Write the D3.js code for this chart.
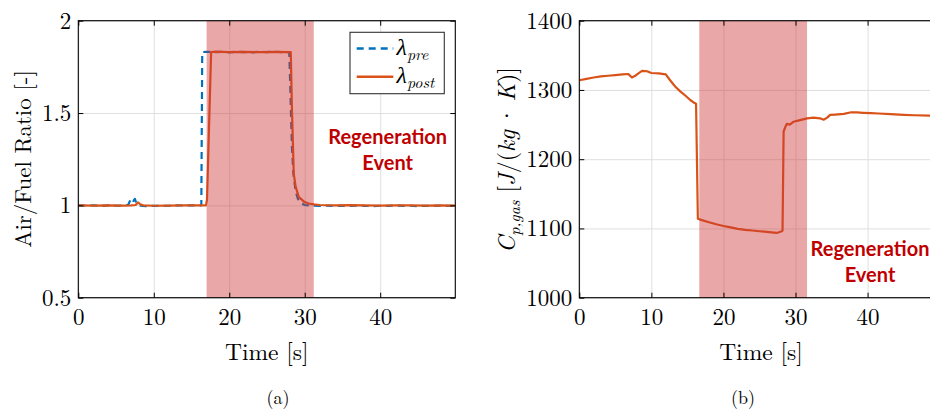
<!DOCTYPE html>
<html>
<head>
<meta charset="utf-8">
<script src="https://cdn.jsdelivr.net/npm/d3@7"></script>
<style>
  html, body { margin: 0; padding: 0; background: #fff; }
  svg { display: block; }
</style>
</head>
<body>
<svg id="chart" width="930" height="412"></svg>
<script>
// ---------------- DATA ----------------
const xTickValues = [0, 10, 20, 30, 40];
const yTicksA = [0.5, 1, 1.5, 2];
const yTickLabelsA = ["0.5", "1", "1.5", "2"];
const yTicksB = [1000, 1100, 1200, 1300, 1400];
const yTickLabelsB = ["1000", "1100", "1200", "1300", "1400"];

// Panel (a): lambda pre (blue dashed)
const tPre = [0, 1, 2, 3, 4, 5, 6, 6.6, 6.9, 7.1, 7.3, 7.5, 7.7, 8.0, 8.5, 9, 10, 11, 12, 13, 14, 15, 16, 16.3, 16.42,
  17, 18, 19, 20, 21, 22, 23, 24, 25, 26, 27, 27.95, 28.1, 28.3, 28.5, 28.8, 29.1, 29.5, 30, 31, 32, 33, 34, 35, 36, 37,
  38, 39, 40, 41, 42, 43, 44, 45, 46, 47, 48, 49, 49.95];
const lambdaPre = [1.0, 0.998, 1.0, 0.997, 1.0, 0.998, 1.0, 1.002, 1.03, 1.038, 1.024, 1.035, 1.01, 1.0, 0.997, 0.996, 0.998, 0.997, 0.998, 1.0, 0.999, 1.0, 1.0, 1.0, 1.83,
  1.832, 1.83, 1.831, 1.829, 1.832, 1.83, 1.829, 1.831, 1.83, 1.832, 1.83, 1.83, 1.62, 1.32, 1.17, 1.075, 1.035, 1.012, 1.002, 0.998, 0.997, 0.999, 0.996, 0.998, 0.997, 0.999,
  0.997, 0.996, 0.998, 0.997, 0.999, 0.997, 0.998, 0.996, 0.998, 0.997, 0.999, 0.997, 0.998];

// Panel (a): lambda post (orange solid)
const tPost = [0, 2, 4, 6, 7, 7.6, 7.9, 8.2, 8.6, 10, 12, 14, 16, 16.9, 17.05, 17.6, 18, 20, 22, 24, 26, 28, 28.15,
  28.3, 28.55, 28.8, 29.2, 29.9, 30.5, 31.2, 32, 34, 36, 38, 40, 42, 44, 46, 48, 49.95];
const lambdaPost = [1.0, 0.999, 1.0, 0.999, 1.0, 1.002, 1.016, 1.006, 1.0, 0.998, 0.999, 1.0, 1.0, 1.0, 1.03, 1.83, 1.832, 1.83, 1.831, 1.83, 1.831, 1.83, 1.83,
  1.53, 1.17, 1.10, 1.047, 1.02, 1.01, 1.005, 1.002, 1.0, 1.001, 1.0, 0.999, 1.0, 1.0, 0.999, 1.0, 0.999];

// Panel (b): Cp,gas (orange solid)
const tCp = [0, 1, 2, 3, 4, 5, 6, 6.8, 7.0, 7.3, 7.7, 8.2, 8.7, 9.4, 10.0, 11, 12.0, 12.6, 13.3, 14.0, 14.7, 15.4, 16.0, 16.2, 16.45,
  17, 18, 19, 20, 21, 22, 23, 24, 25, 26, 27, 27.4, 28.0, 28.2, 28.35, 28.6, 28.8, 29.2, 29.7, 30.5, 31.6, 32.5, 33.4, 33.9,
  34.4, 34.8, 35.5, 36.7, 37.6, 38.5, 39.4, 40.5, 41.5, 43.2, 45, 46.5, 48.7, 49.95];
const cpGas = [1314, 1316, 1318, 1319.5, 1320.5, 1321.5, 1322.5, 1323, 1321, 1318, 1320, 1324, 1327.5, 1327, 1324.5, 1324, 1322.5, 1314, 1305, 1298, 1292, 1285.5, 1281, 1280, 1114,
  1112, 1109, 1106, 1103.5, 1101.5, 1099.5, 1098, 1097, 1096, 1095, 1094, 1093.5, 1095.5, 1097, 1240, 1247, 1251, 1250, 1254, 1256, 1259, 1260, 1259, 1257,
  1260, 1264, 1264.5, 1265.5, 1267.5, 1267.5, 1267, 1266.5, 1266, 1265, 1264, 1263.5, 1263, 1262.5];

// Regeneration event spans
const regenA = [17.0, 31.2];
const regenB = [16.65, 31.6];

const seriesNames = ["\u03bb", "pre", "post"];

// ---------------- DRAWING ----------------
const svg = d3.select("#chart");
const SERIF = '"Latin Modern Roman"';
const SANS = '"Lato"';
const blue = "#0072BD";
const orange = "#D95319";

function panel(cfg) {
  const g = svg.append("g");
  const x = d3.scaleLinear().domain([0, 49.95]).range([cfg.left, cfg.right]);
  const y = d3.scaleLinear().domain(cfg.yDomain).range([cfg.bottom, cfg.top]);
  const w = cfg.right - cfg.left, h = cfg.bottom - cfg.top;
  const clipId = "clip" + cfg.id;
  svg.append("defs").append("clipPath").attr("id", clipId)
    .append("rect").attr("x", cfg.left).attr("y", cfg.top).attr("width", w).attr("height", h);

  // grid
  const grid = g.append("g");
  grid.append("g").attr("transform", `translate(0,${cfg.bottom})`)
    .call(d3.axisBottom(x).tickValues(xTickValues).tickSize(-h).tickFormat(""))
    .call(s => { s.select(".domain").remove(); s.selectAll("line").attr("stroke", "#dfdfdf").attr("stroke-width", 1); });
  grid.append("g").attr("transform", `translate(${cfg.left},0)`)
    .call(d3.axisLeft(y).tickValues(cfg.yTicks).tickSize(-w).tickFormat(""))
    .call(s => { s.select(".domain").remove(); s.selectAll("line").attr("stroke", "#dfdfdf").attr("stroke-width", 1); });

  // lines
  const lines = g.append("g").attr("clip-path", `url(#${clipId})`);
  cfg.series.forEach(sr => {
    const pts = sr.t.map((t, i) => [t, sr.v[i]]);
    lines.append("path").datum(pts)
      .attr("fill", "none").attr("stroke", sr.color).attr("stroke-width", 2.2)
      .attr("stroke-dasharray", sr.dash || null)
      .attr("stroke-linejoin", "round")
      .attr("d", d3.line().x(d => x(d[0])).y(d => y(d[1])));
  });

  // regeneration shading (drawn over lines, semi-transparent)
  g.append("rect")
    .attr("x", x(cfg.regen[0])).attr("y", cfg.top)
    .attr("width", x(cfg.regen[1]) - x(cfg.regen[0])).attr("height", h)
    .attr("fill", "rgb(204,51,51)").attr("fill-opacity", 0.43);

  // axes ticks (inward)
  const styleLabels = s => {
    s.attr("font-family", null).attr("font-size", null);
    s.select(".domain").remove();
    s.selectAll("text").style("font-family", SERIF).style("font-size", "23px").attr("fill", "#000");
    s.selectAll("line").attr("stroke", "#000");
  };
  const ax = g.append("g");
  ax.append("g").attr("transform", `translate(0,${cfg.bottom})`)
    .call(d3.axisBottom(x).tickValues(xTickValues).tickSize(-5).tickPadding(11).tickFormat(d3.format("d")))
    .call(styleLabels);
  ax.append("g").attr("transform", `translate(0,${cfg.top})`)
    .call(d3.axisTop(x).tickValues(xTickValues).tickSize(-5).tickFormat(""))
    .call(s => { s.select(".domain").remove(); s.selectAll("line").attr("stroke", "#000"); });
  ax.append("g").attr("transform", `translate(${cfg.left},0)`)
    .call(d3.axisLeft(y).tickValues(cfg.yTicks).tickSize(-5).tickPadding(7).tickFormat((d, i) => cfg.yTickLabels[i]))
    .call(styleLabels);
  ax.append("g").attr("transform", `translate(${cfg.right},0)`)
    .call(d3.axisRight(y).tickValues(cfg.yTicks).tickSize(-5).tickFormat(""))
    .call(s => { s.select(".domain").remove(); s.selectAll("line").attr("stroke", "#000"); });

  // box
  g.append("rect").attr("x", cfg.left).attr("y", cfg.top).attr("width", w).attr("height", h)
    .attr("fill", "none").attr("stroke", "#000").attr("stroke-width", 1.1);

  // x label
  g.append("text").style("font-family", SERIF).style("font-size", "23.5px")
    .attr("x", cfg.xLabelX).attr("y", 360).attr("text-anchor", "middle").text("Time [s]");

  // regeneration label
  const rl = g.append("text").attr("text-anchor", "middle").style("font-family", SANS)
    .style("font-weight", "bold").style("font-size", "20px").attr("fill", "#c00000");
  rl.append("tspan").attr("x", cfg.regenLabel[0]).attr("y", cfg.regenLabel[1]).text("Regeneration");
  rl.append("tspan").attr("x", cfg.regenLabel[0]).attr("y", cfg.regenLabel[1] + 26).text("Event");

  // caption
  g.append("text").style("font-family", SERIF).style("font-size", "18px")
    .attr("x", cfg.caption[0]).attr("y", cfg.caption[1]).attr("text-anchor", "middle").text(cfg.captionText);

  return { g, x, y };
}

// Panel (a)
panel({
  id: "a", left: 78.3, right: 455.3, top: 20.7, bottom: 297.7,
  yDomain: [0.5, 2], yTicks: yTicksA, yTickLabels: yTickLabelsA,
  series: [
    { t: tPre, v: lambdaPre, color: blue, dash: "7,5" },
    { t: tPost, v: lambdaPost, color: orange }
  ],
  regen: regenA, regenLabel: [387.7, 144], caption: [278, 404], captionText: "(a)", xLabelX: 266.8
});

// y label (a)
svg.append("text").style("font-family", SERIF).style("font-size", "23px")
  .attr("transform", "translate(31,159) rotate(-90)")
  .attr("text-anchor", "middle").text("Air/Fuel Ratio [-]");

// Legend (a)
const leg = svg.append("g");
leg.append("rect").attr("x", 350).attr("y", 32.3).attr("width", 94.3).attr("height", 61.4)
  .attr("fill", "#fff").attr("stroke", "#333").attr("stroke-width", 1.1);
const legItems = [
  { sub: seriesNames[1], color: blue, dash: "7,5", y: 48.5 },
  { sub: seriesNames[2], color: orange, dash: null, y: 76.7 }
];
legItems.forEach(it => {
  leg.append("line").attr("x1", 356.7).attr("x2", 393.3).attr("y1", it.y).attr("y2", it.y)
    .attr("stroke", it.color).attr("stroke-width", 2.4).attr("stroke-dasharray", it.dash);
  const t = leg.append("text").style("font-family", SERIF).style("font-style", "italic").style("font-size", "24px")
    .attr("x", 396.5).attr("y", it.y + 6);
  t.append("tspan").text(seriesNames[0]);
  t.append("tspan").style("font-size", "16px").attr("dy", 5).text(it.sub);
});

// Panel (b)
panel({
  id: "b", left: 579.3, right: 939.3, top: 20.7, bottom: 297.7,
  yDomain: [1000, 1400], yTicks: yTicksB, yTickLabels: yTickLabelsB,
  series: [
    { t: tCp, v: cpGas, color: orange }
  ],
  regen: regenB, regenLabel: [870, 256], caption: [743, 404], captionText: "(b)", xLabelX: 761
});

// y label (b)
const yl = svg.append("text").style("font-family", SERIF).style("font-size", "24px")
  .attr("transform", "translate(515,160) rotate(-90)").attr("text-anchor", "middle");
yl.append("tspan").style("font-style", "italic").text("C");
yl.append("tspan").style("font-style", "italic").style("font-size", "16px").attr("dy", 5).text("p,gas");
yl.append("tspan").attr("dy", -5).text(" [");
yl.append("tspan").style("font-style", "italic").text("J");
yl.append("tspan").text("/(");
yl.append("tspan").style("font-style", "italic").text("kg");
yl.append("tspan").text("\u2009\u00b7\u2009");
yl.append("tspan").style("font-style", "italic").text("K");
yl.append("tspan").text(")]");
</script>
</body>
</html>
